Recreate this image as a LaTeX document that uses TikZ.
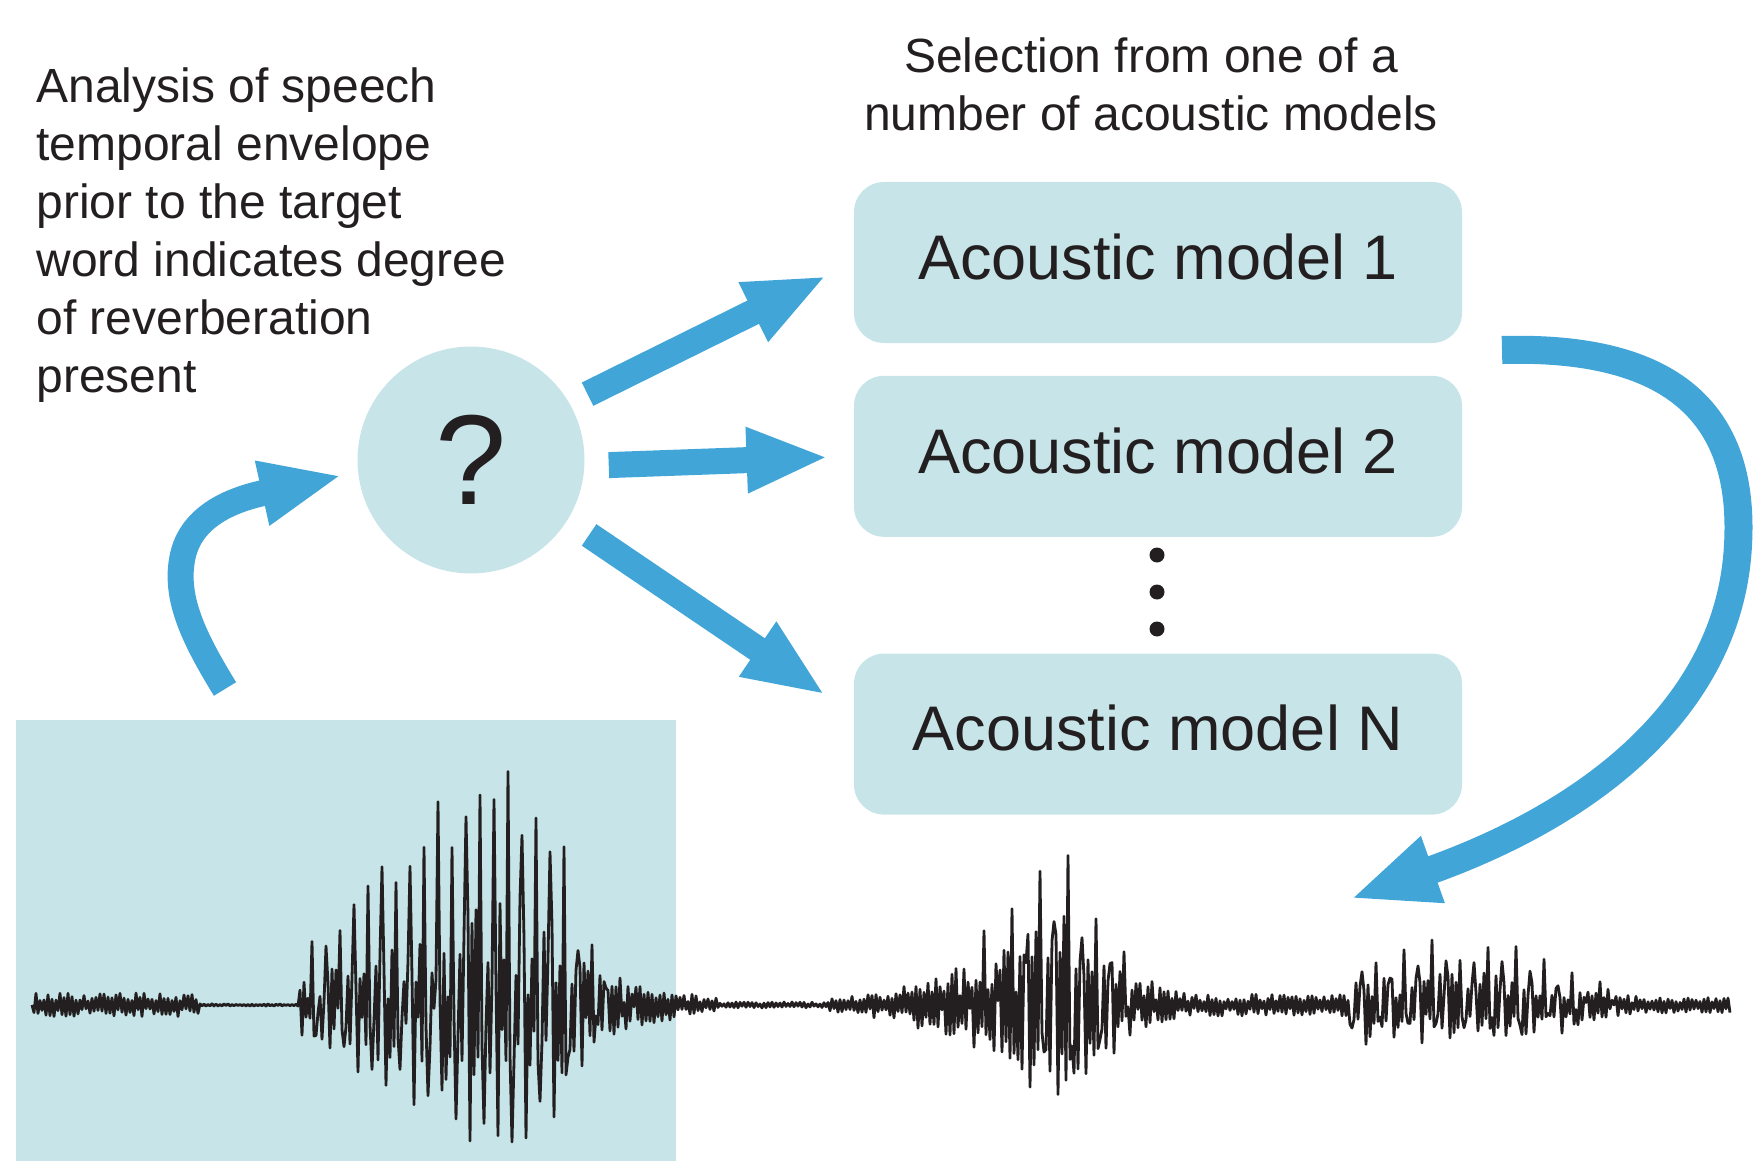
\documentclass[tikz,border=0pt]{standalone}
\usepackage{fontspec}
\setmainfont{Liberation Sans}
\usetikzlibrary{positioning, arrows.meta}
\definecolor{sky}{RGB}{66,165,216}
\definecolor{pale}{RGB}{199,229,232}
\definecolor{ink}{RGB}{35,31,32}

\begin{document}
\begin{tikzpicture}[x=0.5pt, y=-0.5pt, ink,
  model/.style = {fill=pale, rounded corners=15pt, minimum width=304pt, minimum height=80.5pt, inner sep=0pt, text depth=6pt, font=\fontsize{31.5}{38}\selectfont},
  note/.style = {align=left, inner sep=0pt, font=\fontsize{24}{29}\selectfont},
  bigarrow/.style = {draw=sky, line width=13pt, -{Triangle[length=41pt, width=30pt]}},
  wave/.style = {draw=ink, line width=1.4pt, line join=round},
  declare function={
    gss(\t,\m,\s) = exp(-min(((\t-\m)/\s)*((\t-\m)/\s),9));
    eup(\t) = (\t>298)*(\t<720)*255*((\t<520)*gss(\t,520,190)+(\t>=520)*gss(\t,520,60))
            + (\t>830)*(\t<1250)*135*((\t<1070)*gss(\t,1070,75)+(\t>=1070)*gss(\t,1070,45))
            + (\t>1348)*(\t<1640)*55*((\t<1500)+(\t>=1500)*gss(\t,1500,80));
    nz(\t) = (\t<200)*12 + (\t>=200)*(\t<298)*1.2 + (\t>=298)*(\t<720)*(3+22*gss(\t,600,90))
           + (\t>=720)*(\t<830)*3 + (\t>=830)*(\t<1185)*(5+42*gss(\t,1030,120))
           + (\t>=1185)*(\t<1348)*11 + (\t>=1348)*(\t<1610)*14 + (\t>=1610)*8;
    wv(\t,\k,\p) = -(\k==0)*eup(\t)*(0.65+0.35*rnd) + (\k==2)*0.58*eup(\t)*(0.65+0.35*rnd)
            + (\k!=0)*(\k!=2)*(2*\p-1)*0.38*eup(\t)*rnd + (2*\p-1)*nz(\t)*(0.3+0.7*rnd);
    wy(\i) = 1005 + wv(32+2*\i, mod(\i,7), mod(\i,2));
  }]
\useasboundingbox (0,0) rectangle (1757,1161);

% texts
\node[note, anchor=north west] (analysis) at (36,67) {Analysis of speech\\temporal envelope\\prior to the target\\word indicates degree\\of reverberation\\present};
\node[note, align=center, anchor=north] (sel) at (1151,37) {Selection from one of a\\number of acoustic models};

% models
\node[model] (m1) at (1158,262.5) {Acoustic model 1};
\node[model] (m2) [below=16pt of m1] {Acoustic model 2};
\node[model] (m3) [below=58pt of m2] {Acoustic model N};
\foreach \y in {555,592,629} \fill (1157,\y) circle (3.75pt);

% the question
\node[circle, fill=pale, minimum size=113.5pt, inner sep=0pt, font=\fontsize{64}{70}\selectfont] (q) at (471,460) {?};

% speech signal
\node[fill=pale, minimum width=330pt, minimum height=220.5pt, inner sep=0pt, anchor=north west] (env) at (16,720) {};
\pgfmathsetseed{7}
\draw[wave] (32,1005) \foreach \i [evaluate=\i as \xx using 32+2*\i, evaluate=\i as \yy using wy(\i)] in {1,...,849} { -- (\xx,\yy) };

% arrows
\coordinate (lift) at (225,689);
\coordinate (back) at (1502,350);
\coordinate (next) at (1350,899);
\draw[bigarrow, shorten >=8pt] (lift) .. controls (195,640) and (175,600) .. (182,560) .. controls (190,510) and (245,497) .. (q.186);
\draw[bigarrow, shorten <=10pt, shorten >=15pt] (q.30) -- (m1.west);
\draw[bigarrow, shorten <=12pt, shorten >=12.5pt] (q.-3) -- (m2.west);
\draw[bigarrow, shorten <=13pt, shorten >=17pt] (q.-32) -- ([yshift=10pt]m3.west);
\draw[bigarrow, line width=14pt, -{Triangle[length=44pt, width=32pt]}] (back) .. controls (1680,345) and (1745,420) .. (1738,545) .. controls (1730,700) and (1600,810) .. (next);
\end{tikzpicture}
\end{document}
